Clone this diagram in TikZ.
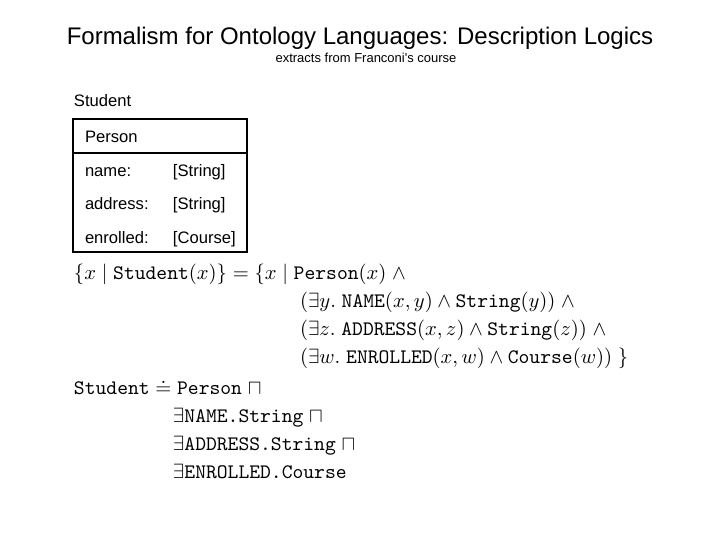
\RequirePackage{fix-cm}
\documentclass[tikz,border=0pt]{standalone}
\usepackage{fontspec}
\setmainfont{Liberation Sans}
\newfontfamily\arialfont{Liberation Sans}
\begin{document}
\begin{tikzpicture}[x=0.5pt,y=-0.5pt,
  every node/.style={inner sep=0pt,outer sep=0pt},
  titletext/.style={anchor=base,font=\arialfont\fontsize{12}{14}\selectfont},
  subtext/.style={anchor=base,font=\arialfont\fontsize{6.5}{8}\selectfont},
  umltext/.style={anchor=base west,font=\arialfont\fontsize{8.3}{10}\selectfont},
  mathtext/.style={anchor=base west,font=\fontsize{10.3}{12}\selectfont},
  umlbox/.style={draw,line width=0.7pt}]
\useasboundingbox (0,0) rectangle (720,540);
% titles
\node[titletext] (title) at (360,45) {Formalism for Ontology Languages: Description Logics};
\node[subtext] (sub) at (366,63) {extracts from Franconi's course};
% UML class
\node[umltext] (stlabel) at (74,107) {Student};
\draw[umlbox] (73,119) rectangle (247,252);
\draw[line width=0.6pt] (73,153) -- (247,153);
\node[umltext] (person) at (85,143) {Person};
\node[umltext] (n1) at (85,177) {name:};
\node[umltext] (t1) at (173,177) {[String]};
\node[umltext] (n2) at (85,210) {address:};
\node[umltext] (t2) at (173,210) {[String]};
\node[umltext] (n3) at (85,244) {enrolled:};
\node[umltext] (t3) at (173,244) {[Course]};
% FOL formula
\node[mathtext] (f1) at (74,280) {$\{x \mid \texttt{Student}(x)\} = \{x \mid \texttt{Person}(x) \;\wedge$};
\node[mathtext] (f2) at (300,308) {$(\exists y.\ \texttt{NAME}(x,y) \wedge \texttt{String}(y)) \;\wedge$};
\node[mathtext] (f3) at (300,336) {$(\exists z.\ \texttt{ADDRESS}(x,z) \wedge \texttt{String}(z)) \;\wedge$};
\node[mathtext] (f4) at (300,364) {$(\exists w.\ \texttt{ENROLLED}(x,w) \wedge \texttt{Course}(w))\ \}$};
% DL formula
\node[mathtext] (d1) at (74,395) {$\texttt{Student} \doteq \texttt{Person} \;\sqcap$};
\node[mathtext] (d2) at (173,423) {$\exists\texttt{NAME.String} \;\sqcap$};
\node[mathtext] (d3) at (173,451) {$\exists\texttt{ADDRESS.String} \;\sqcap$};
\node[mathtext] (d4) at (173,479) {$\exists\texttt{ENROLLED.Course}$};
\end{tikzpicture}
\end{document}
